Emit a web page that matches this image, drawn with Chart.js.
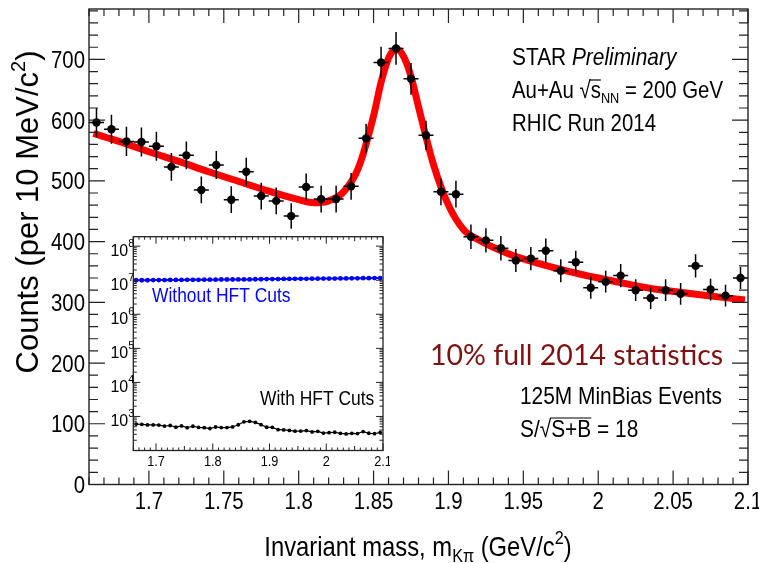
<!DOCTYPE html>
<html>
<head>
<meta charset="utf-8">
<script src="https://cdn.jsdelivr.net/npm/chart.js@4.4.0/dist/chart.umd.min.js"></script>
<style>
  html, body { margin: 0; padding: 0; background: #fff; }
  #wrap { position: relative; width: 759px; height: 563px; overflow: hidden; }
  #mainChart { position: absolute; left: 0; top: 0; }
  #insetChart { position: absolute; left: 100px; top: 225px; }
</style>
</head>
<body>
<div id="wrap">
  <canvas id="mainChart" width="759" height="563"></canvas>
  <canvas id="insetChart" width="290" height="250"></canvas>
</div>
<script>
// K-pi invariant mass spectrum (10 MeV bins)
const massBins = [1.665, 1.675, 1.685, 1.695, 1.705, 1.715, 1.725, 1.735, 1.745, 1.755,
                  1.765, 1.775, 1.785, 1.795, 1.805, 1.815, 1.825, 1.835, 1.845, 1.855,
                  1.865, 1.875, 1.885, 1.895, 1.905, 1.915, 1.925, 1.935, 1.945, 1.955,
                  1.965, 1.975, 1.985, 1.995, 2.005, 2.015, 2.025, 2.035, 2.045, 2.055,
                  2.065, 2.075, 2.085, 2.095];
const counts = [596, 585, 565, 564, 557, 523, 542, 485, 526, 469,
                515, 475, 467, 442, 490, 470, 470, 491, 570, 695,
                718, 668, 575, 482, 478, 408, 402, 389, 369, 372,
                385, 352, 366, 324, 334, 344, 320, 307, 320, 314,
                360, 321, 311, 340];
const countErr = [24, 24, 24, 24, 24, 23, 23, 22, 23, 22,
                  23, 22, 22, 21, 22, 22, 22, 22, 24, 26,
                  27, 26, 24, 22, 22, 20, 20, 20, 19, 19,
                  20, 19, 19, 18, 18, 19, 18, 18, 18, 18,
                  19, 18, 18, 18];
const binHalfWidth = 0.005;

// fit curve (gaussian + background)
const fitMass = [1.663, 1.68, 1.70, 1.72, 1.74, 1.76, 1.78, 1.80, 1.81, 1.82,
                 1.83, 1.84, 1.85, 1.855, 1.86, 1.865, 1.87, 1.875, 1.88, 1.89,
                 1.90, 1.91, 1.92, 1.94, 1.96, 1.98, 2.00, 2.02, 2.04, 2.06,
                 2.08, 2.098];
const fitCounts = [578, 565, 548, 532, 515, 499, 483, 469, 464, 467,
                   482, 522, 607, 662, 702, 717, 705, 672, 622, 527,
                   460, 420, 403, 380, 364, 351, 340, 330, 321, 315,
                   309, 304];

// inset: counts without HFT cuts
const noCutCounts = [1.00e7, 1.00e7, 1.00e7, 1.01e7, 1.01e7, 1.01e7, 1.02e7, 1.02e7, 1.02e7, 1.03e7,
                     1.03e7, 1.03e7, 1.04e7, 1.04e7, 1.04e7, 1.05e7, 1.05e7, 1.05e7, 1.06e7, 1.06e7,
                     1.06e7, 1.07e7, 1.07e7, 1.08e7, 1.08e7, 1.08e7, 1.09e7, 1.09e7, 1.10e7, 1.10e7,
                     1.10e7, 1.11e7, 1.11e7, 1.12e7, 1.12e7, 1.12e7, 1.13e7, 1.13e7, 1.14e7, 1.14e7,
                     1.15e7, 1.15e7, 1.16e7, 1.16e7];

// tick labels
const xTickValues = [1.7, 1.75, 1.8, 1.85, 1.9, 1.95, 2, 2.05, 2.1];
const xTickLabels = ['1.7', '1.75', '1.8', '1.85', '1.9', '1.95', '2', '2.05', '2.1'];
const yTickValues = [0, 100, 200, 300, 400, 500, 600, 700];
const yTickLabels = ['0', '100', '200', '300', '400', '500', '600', '700'];
const insetXTickValues = [1.7, 1.8, 1.9, 2, 2.1];
const insetXTickLabels = ['1.7', '1.8', '1.9', '2', '2.1'];
const insetYDecades = [3, 4, 5, 6, 7, 8];

// no narrow face installed, so squeeze Liberation Sans horizontally
const SANS = '"Liberation Sans", Arial, sans-serif';
const NARROW_X = 0.85;

function toPoints(xs, ys) {
    return xs.map((x, i) => ({ x: x, y: ys[i] }));
}

// draw a row of text runs: {t, font, dy, color, over}
function drawRuns(ctx, x, y, runs, align, sx) {
    sx = sx || 1;
    let total = 0;
    runs.forEach(r => { ctx.font = r.font; r.w = ctx.measureText(r.t).width; total += r.w; });
    if (align === 'center') x -= total * sx / 2;
    if (align === 'right') x -= total * sx;
    ctx.save();
    ctx.translate(x, y);
    ctx.scale(sx, 1);
    ctx.textAlign = 'left';
    ctx.textBaseline = 'alphabetic';
    let cx = 0;
    runs.forEach(r => {
        ctx.font = r.font;
        ctx.fillStyle = r.color || '#000';
        ctx.fillText(r.t, cx, r.dy || 0);
        if (r.over) {
            // overline for square roots
            ctx.strokeStyle = r.color || '#000';
            ctx.lineWidth = 1.2;
            ctx.beginPath();
            ctx.moveTo(cx - 1, -r.over);
            ctx.lineTo(cx + r.w, -r.over);
            ctx.stroke();
        }
        cx += r.w;
    });
    ctx.restore();
}

const mainDecor = {
    id: 'mainDecor',
    afterDatasetsDraw(chart) {
        const { ctx, scales: { x, y } } = chart;
        ctx.save();
        ctx.strokeStyle = '#000';
        ctx.lineWidth = 1.5;
        massBins.forEach((m, i) => {
            const px = x.getPixelForValue(m);
            const py = y.getPixelForValue(counts[i]);
            ctx.beginPath();
            ctx.moveTo(px, y.getPixelForValue(counts[i] - countErr[i]));
            ctx.lineTo(px, y.getPixelForValue(counts[i] + countErr[i]));
            ctx.moveTo(x.getPixelForValue(m - binHalfWidth), py);
            ctx.lineTo(x.getPixelForValue(m + binHalfWidth), py);
            ctx.stroke();
        });
        ctx.restore();
    },
    afterDraw(chart) {
        const { ctx, chartArea: a, scales: { x, y } } = chart;
        ctx.save();
        ctx.strokeStyle = '#222';
        ctx.lineWidth = 1.4;
        ctx.strokeRect(a.left, a.top, a.right - a.left, a.bottom - a.top);

        // ROOT style ticks on all four sides
        ctx.lineWidth = 1.2;
        ctx.beginPath();
        for (let k = 0; k <= 44; k++) {
            const v = 1.66 + k * 0.01;
            const len = Math.round(v * 100) % 5 === 0 ? 14 : 7;
            const px = x.getPixelForValue(v);
            ctx.moveTo(px, a.bottom); ctx.lineTo(px, a.bottom - len);
            ctx.moveTo(px, a.top); ctx.lineTo(px, a.top + len);
        }
        for (let v = 0; v <= 780; v += 20) {
            const len = v % 100 === 0 ? 16 : 9;
            const py = y.getPixelForValue(v);
            ctx.moveTo(a.left, py); ctx.lineTo(a.left + len, py);
            ctx.moveTo(a.right, py); ctx.lineTo(a.right - len, py);
        }
        ctx.stroke();

        // tick labels
        const tickFont = '24px ' + SANS;
        xTickValues.forEach((v, i) => {
            drawRuns(ctx, x.getPixelForValue(v), a.bottom + 24, [{ t: xTickLabels[i], font: tickFont }], 'center', NARROW_X);
        });
        yTickValues.forEach((v, i) => {
            drawRuns(ctx, a.left - 4, y.getPixelForValue(v) + 8.5, [{ t: yTickLabels[i], font: tickFont }], 'right', NARROW_X);
        });

        // axis titles
        drawRuns(ctx, 418, 556, [
            { t: 'Invariant mass, m', font: '28px ' + SANS },
            { t: 'K\u03c0', font: '19px ' + SANS, dy: 6 },
            { t: ' (GeV/c', font: '28px ' + SANS },
            { t: '2', font: '19px ' + SANS, dy: -12 },
            { t: ')', font: '28px ' + SANS }
        ], 'center', NARROW_X);
        ctx.save();
        ctx.translate(38, 212);
        ctx.rotate(-Math.PI / 2);
        drawRuns(ctx, 0, 0, [
            { t: 'Counts (per 10 MeV/c', font: '31px ' + SANS },
            { t: '2', font: '20px ' + SANS, dy: -13 },
            { t: ')', font: '31px ' + SANS }
        ], 'center');
        ctx.restore();

        // annotations
        drawRuns(ctx, 512, 65, [
            { t: 'STAR ', font: '24px ' + SANS },
            { t: 'Preliminary', font: 'italic 24px ' + SANS }
        ], 'left', 0.87);
        drawRuns(ctx, 512, 98, [
            { t: 'Au+Au \u221a', font: '24px ' + SANS },
            { t: 's', font: '24px ' + SANS, over: 18 },
            { t: 'NN', font: '15px ' + SANS, dy: 5 },
            { t: ' = 200 GeV', font: '24px ' + SANS }
        ], 'left', NARROW_X);
        drawRuns(ctx, 512, 131, [{ t: 'RHIC Run 2014', font: '24px ' + SANS }], 'left', NARROW_X);
        drawRuns(ctx, 430, 365, [{ t: '10% full 2014 statistics', font: '28.5px Lato, "Open Sans", sans-serif', color: '#7d1212' }], 'left', 1);
        drawRuns(ctx, 520, 404, [{ t: '125M MinBias Events', font: '24px ' + SANS }], 'left', 0.87);
        drawRuns(ctx, 520, 437, [
            { t: 'S/\u221a', font: '24px ' + SANS },
            { t: 'S+B', font: '24px ' + SANS, over: 19 },
            { t: ' = 18', font: '24px ' + SANS }
        ], 'left', 0.87);
        ctx.restore();
    }
};

new Chart(document.getElementById('mainChart'), {
    type: 'scatter',
    data: {
        datasets: [
            {
                label: 'Data',
                data: toPoints(massBins, counts),
                pointRadius: 4.2,
                pointBackgroundColor: '#000',
                pointBorderWidth: 0,
                showLine: false
            },
            {
                label: 'Fit',
                type: 'line',
                data: toPoints(fitMass, fitCounts),
                borderColor: '#ff0000',
                borderWidth: 7,
                pointRadius: 0,
                cubicInterpolationMode: 'monotone',
                fill: false
            }
        ]
    },
    options: {
        responsive: false,
        animation: false,
        events: [],
        layout: { padding: { top: 9, right: 11, left: 0, bottom: 0 } },
        plugins: { legend: { display: false }, tooltip: { enabled: false } },
        scales: {
            x: {
                type: 'linear',
                min: 1.66,
                max: 2.1,
                grid: { display: false, drawTicks: false },
                border: { display: false },
                afterBuildTicks: s => { s.ticks = xTickValues.map(v => ({ value: v })); },
                afterFit: s => { s.height = 78.5; s.paddingLeft = 0; s.paddingRight = 0; },
                ticks: { display: false }
            },
            y: {
                type: 'linear',
                min: 0,
                max: 783,
                grid: { display: false, drawTicks: false },
                border: { display: false },
                afterBuildTicks: s => { s.ticks = yTickValues.map(v => ({ value: v })); },
                afterFit: s => { s.width = 89; s.paddingTop = 0; s.paddingBottom = 0; },
                ticks: { display: false }
            }
        }
    },
    plugins: [mainDecor]
});

const insetDecor = {
    id: 'insetDecor',
    beforeDatasetsDraw(chart) {
        const { ctx, chartArea: a } = chart;
        ctx.save();
        ctx.fillStyle = '#fff';
        ctx.fillRect(a.left, a.top, a.right - a.left, a.bottom - a.top);
        ctx.restore();
    },
    afterDraw(chart) {
        const { ctx, chartArea: a, scales: { x, y } } = chart;
        ctx.save();
        ctx.strokeStyle = '#222';
        ctx.lineWidth = 1.3;
        ctx.strokeRect(a.left, a.top, a.right - a.left, a.bottom - a.top);

        ctx.lineWidth = 1;
        ctx.beginPath();
        for (let k = 0; k <= 44; k++) {
            const v = 1.66 + k * 0.01;
            const r = Math.round(v * 100);
            const len = r % 10 === 0 ? 7 : (r % 5 === 0 ? 4.5 : 3);
            const px = x.getPixelForValue(v);
            ctx.moveTo(px, a.bottom); ctx.lineTo(px, a.bottom - len);
            ctx.moveTo(px, a.top); ctx.lineTo(px, a.top + len);
        }
        for (let d = 2; d <= 8; d++) {
            for (let m = 1; m <= 9; m++) {
                const v = m * Math.pow(10, d);
                if (v < y.min || v > y.max) continue;
                const len = m === 1 ? 7 : 3.5;
                const py = y.getPixelForValue(v);
                ctx.moveTo(a.left, py); ctx.lineTo(a.left + len, py);
                ctx.moveTo(a.right, py); ctx.lineTo(a.right - len, py);
            }
        }
        ctx.stroke();

        // tick labels
        insetXTickValues.forEach((v, i) => {
            drawRuns(ctx, x.getPixelForValue(v), a.bottom + 15, [{ t: insetXTickLabels[i], font: '15px ' + SANS }], 'center', NARROW_X);
        });
        insetYDecades.forEach(d => {
            const py = y.getPixelForValue(Math.pow(10, d));
            drawRuns(ctx, a.left + 1, py + 10, [
                { t: '10', font: '16px ' + SANS },
                { t: String(d), font: '11px ' + SANS, dy: -9 }
            ], 'right');
        });

        drawRuns(ctx, 52, 77, [{ t: 'Without HFT Cuts', font: '20.5px ' + SANS, color: '#0000ff' }], 'left', NARROW_X);
        drawRuns(ctx, 160, 180, [{ t: 'With HFT Cuts', font: '20.5px ' + SANS }], 'left', NARROW_X);
        ctx.restore();
    }
};

new Chart(document.getElementById('insetChart'), {
    type: 'scatter',
    data: {
        datasets: [
            {
                label: 'Without HFT Cuts',
                data: toPoints(massBins, noCutCounts),
                showLine: true,
                borderColor: '#0000ff',
                borderWidth: 2,
                pointRadius: 2.4,
                pointBackgroundColor: '#0000ff',
                pointBorderWidth: 0
            },
            {
                label: 'With HFT Cuts',
                data: toPoints(massBins, counts),
                showLine: true,
                borderColor: '#000',
                borderWidth: 1.2,
                pointRadius: 1.9,
                pointBackgroundColor: '#000',
                pointBorderWidth: 0
            }
        ]
    },
    options: {
        responsive: false,
        animation: false,
        events: [],
        layout: { padding: { top: 11.7, right: 7, left: 0, bottom: 0 } },
        plugins: { legend: { display: false }, tooltip: { enabled: false } },
        scales: {
            x: {
                type: 'linear',
                min: 1.66,
                max: 2.1,
                grid: { display: false, drawTicks: false },
                border: { display: false },
                afterFit: s => { s.height = 24.5; s.paddingLeft = 0; s.paddingRight = 0; },
                ticks: { display: false }
            },
            y: {
                type: 'logarithmic',
                min: 100,
                max: 1.9e8,
                grid: { display: false, drawTicks: false },
                border: { display: false },
                afterFit: s => { s.width = 33.3; s.paddingTop = 0; s.paddingBottom = 0; },
                ticks: { display: false }
            }
        }
    },
    plugins: [insetDecor]
});
</script>
</body>
</html>
